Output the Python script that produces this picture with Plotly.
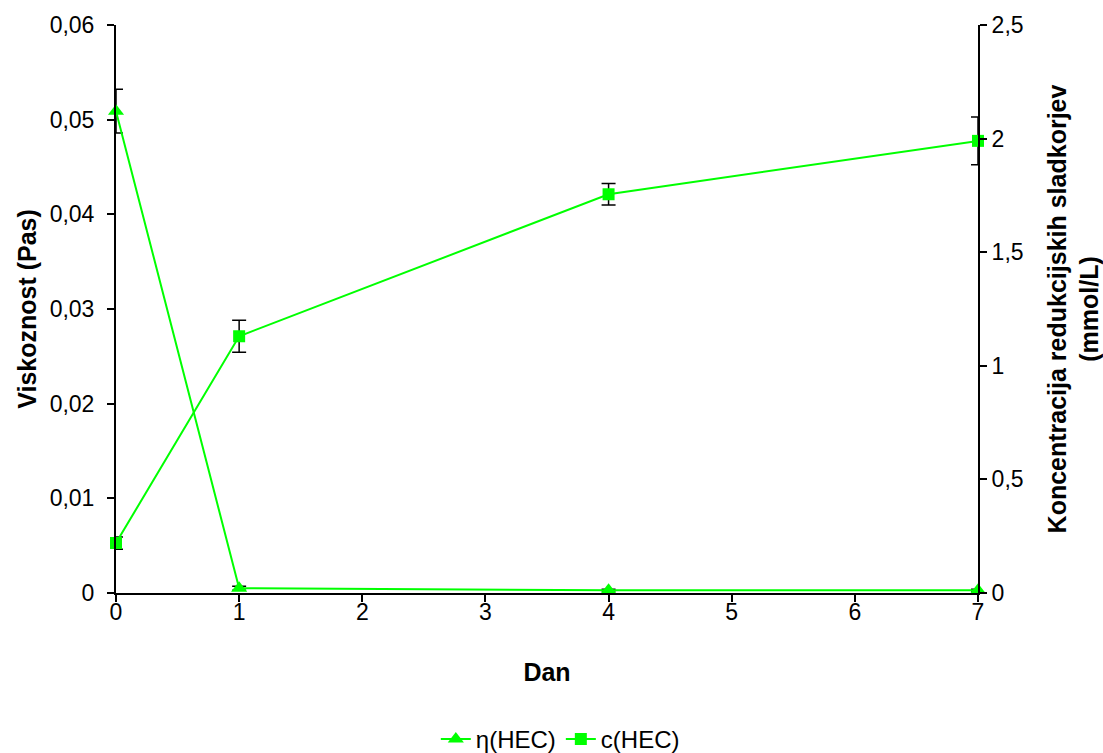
import plotly.graph_objects as go

# Measurement days and series values
days = [0, 1, 4, 7]
viscosity = [0.0509, 0.0005, 0.0003, 0.0003]          # Pas
viscosity_err = [0.0023, 0.0002, 0.0001, 0.0001]
sugars = [0.22, 1.13, 1.755, 1.99]                     # mmol/L
sugars_err = [0.027, 0.07, 0.047, 0.105]

x_ticks = [0, 1, 2, 3, 4, 5, 6, 7]
green = "#00FF00"
font = "Liberation Sans, Arial, sans-serif"
tick_size = 23
title_size = 25

fig = go.Figure()
fig.add_trace(go.Scatter(
    x=days, y=viscosity, name="η(HEC)", mode="lines+markers",
    line=dict(color=green, width=2),
    marker=dict(symbol="triangle-up", size=14, color=green),
    error_y=dict(type="data", array=viscosity_err, color="black", thickness=1.5, width=7),
    cliponaxis=False, yaxis="y",
))
fig.add_trace(go.Scatter(
    x=days, y=sugars, name="c(HEC)", mode="lines+markers",
    line=dict(color=green, width=2),
    marker=dict(symbol="square", size=12, color=green),
    error_y=dict(type="data", array=sugars_err, color="black", thickness=1.5, width=7),
    cliponaxis=False, yaxis="y2",
))

axis_common = dict(showgrid=False, zeroline=False, showline=True, linecolor="black",
                   linewidth=2, ticks="outside", ticklen=7, tickwidth=1.5, tickcolor="black",
                   tickfont=dict(size=tick_size, color="black", family=font))
# Inside ticks on overlay axes give the crossing tick marks
inner = dict(showgrid=False, zeroline=False, showline=False, ticks="inside", ticklen=7,
             tickwidth=1.5, tickcolor="black", showticklabels=False)

fig.update_layout(
    width=1103, height=753,
    margin=dict(l=116, r=125, t=25, b=160, autoexpand=False),
    paper_bgcolor="white", plot_bgcolor="white",
    separators=", ",
    font=dict(family=font, color="black"),
    showlegend=True,
    legend=dict(orientation="h", x=0.508, xanchor="center", xref="container",
                y=0.018, yanchor="middle", yref="container",
                font=dict(size=24, family=font)),
    xaxis=dict(range=[0, 7], tickvals=x_ticks, ticklabelstandoff=-10, **axis_common,
               title=dict(text="<b>Dan</b>", font=dict(size=title_size, family=font), standoff=40)),
    yaxis=dict(range=[0, 0.06], dtick=0.01, ticklabelstandoff=8, **axis_common,
               title=dict(text="<b>Viskoznost (Pas)</b>", font=dict(size=title_size, family=font), standoff=6)),
    yaxis2=dict(range=[0, 2.5], dtick=0.5, overlaying="y", side="right", anchor="x", **axis_common,
                title=dict(text="<b>Koncentracija redukcijskih sladkorjev<br>(mmol/L)</b>",
                           font=dict(size=title_size, family=font), standoff=29)),
    xaxis3=dict(range=[0, 7], tickvals=x_ticks, overlaying="x", anchor="y", **inner),
    yaxis3=dict(range=[0, 0.06], dtick=0.01, overlaying="y", anchor="x", side="left", **inner),
    yaxis4=dict(range=[0, 2.5], dtick=0.5, overlaying="y", anchor="x", side="right", **inner),
)

fig.write_html("out.html")
